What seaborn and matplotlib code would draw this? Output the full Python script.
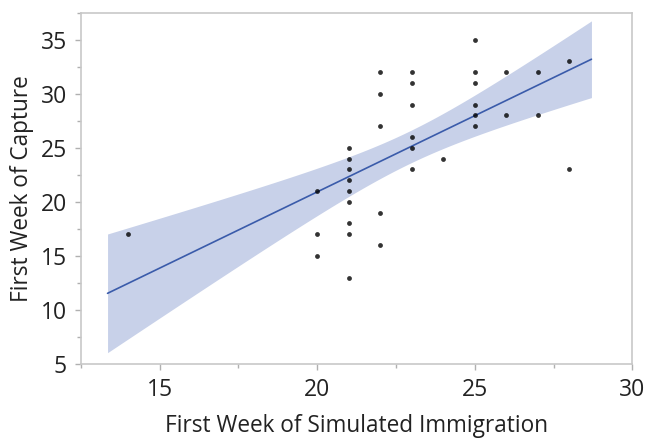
import matplotlib
matplotlib.use("Agg")
import matplotlib.pyplot as plt
import seaborn as sns
import pandas as pd
import numpy as np
from matplotlib.ticker import MultipleLocator

immigration = [14,
               20, 20, 20,
               21, 21, 21, 21, 21, 21, 21, 21, 21,
               22, 22, 22, 22, 22,
               23, 23, 23, 23, 23, 23,
               24,
               25, 25, 25, 25, 25, 25,
               26, 26,
               27, 27,
               28, 28]
capture = [17,
           21, 17, 15,
           25, 24, 23, 22, 21, 20, 18, 17, 13,
           32, 30, 27, 19, 16,
           32, 31, 29, 26, 25, 23,
           24,
           35, 32, 31, 29, 28, 27,
           32, 28,
           32, 28,
           33, 23]

XLAB = "First Week of Simulated Immigration"
YLAB = "First Week of Capture"
df = pd.DataFrame({XLAB: immigration, YLAB: capture})

sns.set_theme(style="white")
plt.rcParams["font.family"] = ["Open Sans", "DejaVu Sans"]

fig = plt.figure(figsize=(6.46, 4.38), dpi=100)
ax = fig.add_axes([0.125, 0.169, 0.854, 0.802])

# fit range shown in the reference
fit_lo, fit_hi = 13.35, 28.7
ax.set_xlim(fit_lo, fit_hi)
sns.regplot(data=df, x=XLAB, y=YLAB, ax=ax, ci=None, truncate=False,
            scatter_kws=dict(color="black", s=12, linewidths=0, zorder=3),
            line_kws=dict(color="#3A5BAA", lw=1.2, zorder=2))

# analytic 95% confidence band of the fitted mean
x = np.asarray(immigration, float)
y = np.asarray(capture, float)
n = len(x)
b1, b0 = np.polyfit(x, y, 1)
resid = y - (b0 + b1 * x)
s = np.sqrt(np.sum(resid ** 2) / (n - 2))
t975 = 2.030
grid = np.linspace(fit_lo, fit_hi, 200)
se = s * np.sqrt(1 / n + (grid - x.mean()) ** 2 / np.sum((x - x.mean()) ** 2))
fit = b0 + b1 * grid
ax.fill_between(grid, fit - t975 * se, fit + t975 * se, color="#C8D1E9", lw=0, zorder=1)

ax.set_xlim(12.5, 30)
ax.set_ylim(5, 37.5)
ax.xaxis.set_major_locator(MultipleLocator(5))
ax.xaxis.set_minor_locator(MultipleLocator(2.5))
ax.yaxis.set_major_locator(MultipleLocator(5))
ax.yaxis.set_minor_locator(MultipleLocator(2.5))

for sp in ax.spines.values():
    sp.set_color("#C8C8C8")
    sp.set_linewidth(1.2)

ax.tick_params(which="major", direction="out", length=4, width=1, color="#B0B0B0",
               labelsize=16.5, labelcolor="#222222", bottom=True, left=True, pad=6)
ax.tick_params(which="minor", direction="out", length=3, width=1, color="#B0B0B0",
               bottom=True, left=True)

ax.set_xlabel(XLAB, fontsize=16.3, color="#222222", labelpad=9)
ax.set_ylabel(YLAB, fontsize=16.3, color="#222222", labelpad=5)

fig.savefig("out.png", dpi=100)
